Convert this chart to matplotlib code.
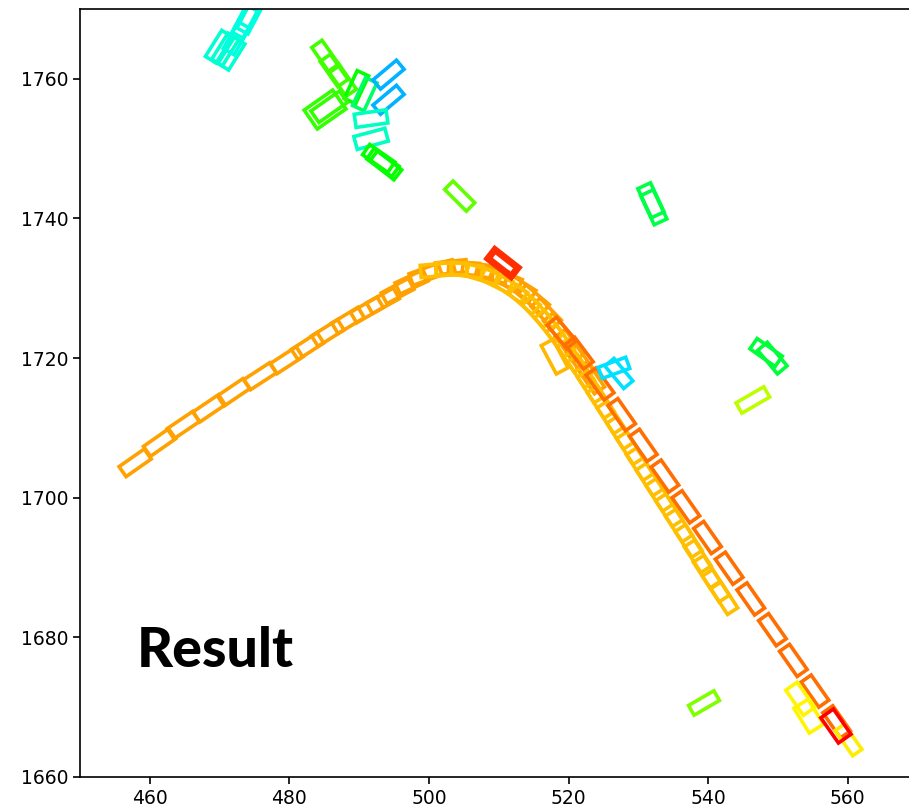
import numpy as np
import matplotlib
matplotlib.use("Agg")
import matplotlib.pyplot as plt
from matplotlib.patches import Rectangle
from matplotlib.colors import hsv_to_rgb

# ---------------- data ----------------
# Track A: orange, ascending approach and over the crest
trackA_x = [457.9, 461.4, 464.8, 468.5, 472.0, 475.8, 479.6, 482.6, 485.5, 488.4,
            491.1, 493.4, 495.5, 497.5, 499.5, 501.4, 503.2, 505.0, 507.0, 509.0,
            511.0, 513.0, 515.0, 516.8, 518.5, 520.1, 521.7, 523.2]
trackA_y = [1705.0, 1707.9, 1710.4, 1712.8, 1715.1, 1717.4, 1719.7, 1721.7, 1723.6, 1725.4,
            1726.9, 1728.2, 1729.6, 1730.9, 1732.0, 1732.7, 1733.0, 1732.8, 1732.6, 1732.1,
            1731.3, 1730.1, 1728.4, 1726.4, 1724.2, 1721.8, 1719.5, 1717.2]
trackA_ang = [35, 35, 34, 34, 34, 33, 33, 33, 32, 31,
              30, 29, 28, 25, 20, 14, 6, -3, -8, -15,
              -23, -32, -40, -46, -50, -54, -55, -56]
trackA_hue = 0.105

# Track B: yellow-orange, from the crest down to ~(542, 1686)
trackB_x = [501.0, 503.2, 505.4, 507.6, 509.7, 511.8, 513.7, 515.5, 517.2, 518.8,
            520.3, 521.8, 523.2, 524.6, 526.0, 527.4, 528.8, 530.2, 531.6, 533.0,
            534.4, 535.8, 537.2, 538.5, 539.8, 541.1, 542.3]
trackB_y = [1732.6, 1732.8, 1732.6, 1732.0, 1731.1, 1729.9, 1728.4, 1726.6, 1724.6, 1722.5,
            1720.3, 1718.1, 1715.9, 1713.7, 1711.5, 1709.3, 1707.1, 1704.8, 1702.6, 1700.4,
            1698.2, 1696.0, 1693.8, 1691.6, 1689.4, 1687.4, 1685.6]
trackB_ang = [5, 0, -8, -17, -26, -34, -41, -47, -51, -54,
              -56, -57, -57, -57, -57, -57, -57, -57, -57, -57,
              -57, -57, -57, -57, -57, -57, -57]
trackB_hue = 0.125

# Track C: dark orange, descending to the lower right
trackC_x = [519.0, 521.5, 524.5, 527.6, 530.7, 533.8, 536.8, 539.9, 543.0, 546.1,
            549.2, 552.2, 555.3, 558.4]
trackC_y = [1723.6, 1720.7, 1716.3, 1711.9, 1707.5, 1703.1, 1698.7, 1694.3, 1689.9, 1685.5,
            1681.1, 1676.7, 1672.3, 1667.9]
trackC_ang = [-50, -53, -54, -55, -55, -55, -55, -55, -55, -55,
              -55, -55, -55, -55]
trackC_hue = 0.072

# Other single detections
other_x = [510.6, 518.0,
           469.9, 470.8, 471.7, 472.4, 473.6, 474.3,
           485.2, 486.4, 487.6, 489.6, 490.8,
           485.1, 485.7,
           494.2, 494.2,
           491.7, 491.7,
           492.8, 493.4, 493.8,
           504.4,
           531.8, 532.2,
           526.5, 527.2,
           548.3, 549.2,
           546.4,
           539.4,
           553.2, 554.4, 560.1, 558.3]
other_y = [1733.6, 1720.2,
           1764.6, 1764.2, 1763.6, 1765.8, 1768.2, 1768.8,
           1763.2, 1761.2, 1759.8, 1758.8, 1757.8,
           1755.6, 1756.0,
           1760.6, 1757.0,
           1754.3, 1751.4,
           1748.6, 1748.0, 1747.6,
           1743.2,
           1742.6, 1741.6,
           1718.6, 1717.8,
           1720.8, 1720.0,
           1714.0,
           1670.6,
           1671.2, 1668.7, 1665.3, 1667.3]
other_ang = [-38, -62,
             58, 58, 58, 60, 62, 62,
             -55, -55, -55, 65, 65,
             35, 35,
             40, 40,
             8, 15,
             -35, -35, -38,
             -45,
             -65, -65,
             20, -50,
             -35, -50,
             30,
             30,
             -55, -58, -55, -55]
other_hue = [0.03, 0.12,
             0.47, 0.47, 0.47, 0.48, 0.48, 0.48,
             0.29, 0.29, 0.29, 0.33, 0.40,
             0.30, 0.30,
             0.55, 0.55,
             0.46, 0.46,
             0.33, 0.33, 0.33,
             0.27,
             0.38, 0.38,
             0.52, 0.52,
             0.37, 0.37,
             0.21,
             0.25,
             0.16, 0.16, 0.155, 0.0]
other_len = [4.2, 4.6,
             4.4, 4.4, 4.4, 4.4, 4.4, 4.4,
             4.4, 4.4, 4.4, 4.4, 4.4,
             5.0, 5.0,
             4.4, 4.4,
             4.6, 4.6,
             4.4, 4.4, 4.4,
             4.4,
             4.6, 4.6,
             4.2, 4.2,
             4.4, 4.4,
             4.6,
             4.2,
             4.4, 4.2, 4.4, 4.4]
other_wid = [1.6, 1.9,
             1.8, 1.8, 1.8, 1.8, 1.8, 1.8,
             1.8, 1.8, 1.8, 1.8, 1.8,
             3.3, 2.0,
             1.7, 1.7,
             1.9, 1.9,
             1.8, 1.8, 1.8,
             1.7,
             2.0, 2.0,
             1.7, 1.7,
             1.8, 1.8,
             1.7,
             1.6,
             2.0, 2.4, 1.6, 2.2]

# ---------------- figure ----------------
W, H = 909, 809
fig = plt.figure(figsize=(W / 100, H / 100), dpi=100)
ax = fig.add_axes([80 / W, 32 / H, 832 / W, 768 / H])
ax.set_xlim(450, 569.2)
ax.set_ylim(1660, 1770)

LW = 2.6


def draw_box(x, y, ang, hue, length=4.4, width=1.75, lw=LW):
    color = hsv_to_rgb([hue, 1.0, 1.0])
    r = Rectangle((x - length / 2, y - width / 2), length, width, angle=ang,
                  rotation_point="center", fill=False, edgecolor=color,
                  linewidth=lw)
    ax.add_patch(r)


for xs, ys, angs, hue in [(trackA_x, trackA_y, trackA_ang, trackA_hue),
                          (trackB_x, trackB_y, trackB_ang, trackB_hue),
                          (trackC_x, trackC_y, trackC_ang, trackC_hue)]:
    for x, y, a in zip(xs, ys, angs):
        draw_box(x, y, a, hue)

for i, (x, y, a, h, L, Wd) in enumerate(zip(other_x, other_y, other_ang, other_hue,
                                            other_len, other_wid)):
    lw = 5.0 if i == 0 else LW
    draw_box(x, y, a, h, L, Wd, lw=lw)

ax.set_xticks([460, 480, 500, 520, 540, 560])
ax.set_yticks([1660, 1680, 1700, 1720, 1740, 1760])
ax.tick_params(labelsize=13.5, length=5, width=1.2)
for s in ax.spines.values():
    s.set_linewidth(1.2)

ax.text(458.1, 1675.8, "Result", fontsize=40, fontweight="black",
        family=["Lato", "DejaVu Sans"], va="baseline", ha="left")

fig.savefig("out.png", dpi=100)
